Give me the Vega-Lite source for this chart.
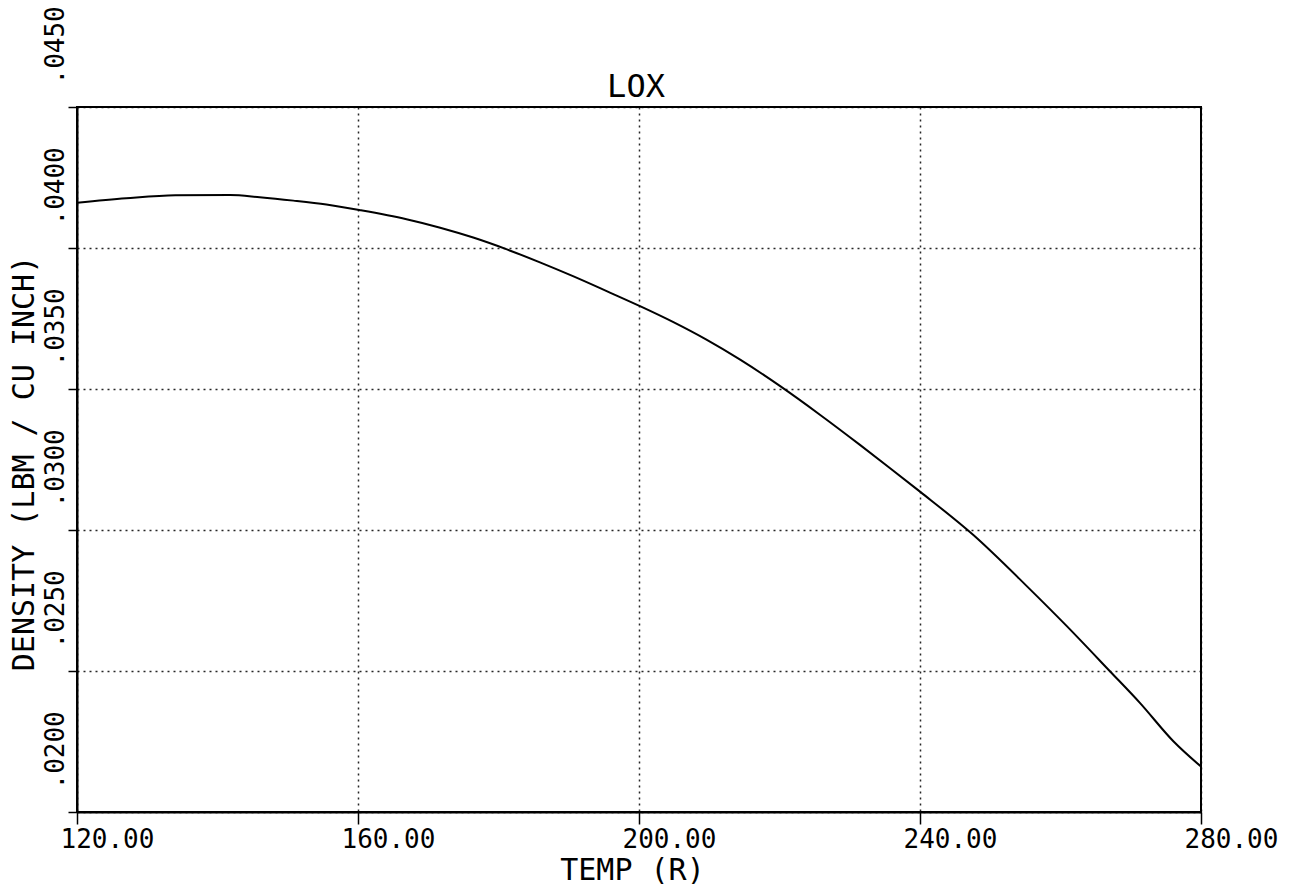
{
  "$schema": "https://vega.github.io/schema/vega-lite/v6.json",
  "width": 1124,
  "height": 705,
  "autosize": {"type": "none"},
  "padding": {"left": 77, "top": 107, "right": 95, "bottom": 76},
  "background": "white",
  "title": {
    "text": "LOX",
    "font": "DejaVu Sans Mono",
    "fontSize": 32,
    "fontWeight": "normal",
    "color": "black",
    "anchor": "middle",
    "baseline": "alphabetic",
    "offset": 10,
    "dx": -3,
    "dy": 133
  },
  "config": {
    "view": {"stroke": "black", "strokeWidth": 2},
    "axis": {
      "domainColor": "black",
      "domainWidth": 2,
      "tickColor": "black",
      "tickWidth": 1.5,
      "gridColor": "black",
      "gridDash": [2, 4],
      "gridWidth": 1.5,
      "gridOpacity": 0.85,
      "labelFont": "DejaVu Sans Mono",
      "labelFontSize": 26,
      "labelColor": "black",
      "titleFont": "DejaVu Sans Mono",
      "titleFontSize": 30,
      "titleFontWeight": "normal",
      "titleColor": "black"
    }
  },
  "data": {
    "values": [
      {"temp": 120.0, "density": 0.04160},
      {"temp": 127.0, "density": 0.04176},
      {"temp": 134.0, "density": 0.04187},
      {"temp": 141.8, "density": 0.04188},
      {"temp": 146.0, "density": 0.04180},
      {"temp": 150.8, "density": 0.04168},
      {"temp": 155.5, "density": 0.04154},
      {"temp": 160.3, "density": 0.04134},
      {"temp": 166.9, "density": 0.04102},
      {"temp": 171.7, "density": 0.04072},
      {"temp": 176.4, "density": 0.04037},
      {"temp": 181.2, "density": 0.03995},
      {"temp": 185.9, "density": 0.03949},
      {"temp": 190.6, "density": 0.03900},
      {"temp": 195.4, "density": 0.03847},
      {"temp": 200.3, "density": 0.03792},
      {"temp": 204.9, "density": 0.03737},
      {"temp": 209.6, "density": 0.03675},
      {"temp": 214.4, "density": 0.03604},
      {"temp": 220.1, "density": 0.03510},
      {"temp": 225.8, "density": 0.03408},
      {"temp": 231.5, "density": 0.03301},
      {"temp": 235.7, "density": 0.03220},
      {"temp": 240.0, "density": 0.03136},
      {"temp": 247.6, "density": 0.02982},
      {"temp": 255.2, "density": 0.02801},
      {"temp": 260.9, "density": 0.02659},
      {"temp": 267.0, "density": 0.02500},
      {"temp": 271.3, "density": 0.02387},
      {"temp": 276.1, "density": 0.02250},
      {"temp": 280.0, "density": 0.02161}
    ]
  },
  "mark": {"type": "line", "color": "black", "strokeWidth": 2, "interpolate": "monotone", "clip": true},
  "encoding": {
    "x": {
      "field": "temp",
      "type": "quantitative",
      "scale": {"domain": [120, 280], "nice": false, "zero": false},
      "axis": {
        "title": "TEMP (R)",
        "values": [120, 160, 200, 240, 280],
        "format": ".2f",
        "tickSize": 12,
        "labelAlign": "left",
        "labelBaseline": "top",
        "labelOffset": -17,
        "labelPadding": 2,
        "labelFlush": false,
        "labelOverlap": false,
        "grid": true,
        "titleX": 555,
        "titleY": 67,
        "titleAlign": "center",
        "titleBaseline": "alphabetic"
      }
    },
    "y": {
      "field": "density",
      "type": "quantitative",
      "scale": {"domain": [0.02, 0.045], "nice": false, "zero": false},
      "axis": {
        "title": "DENSITY (LBM / CU INCH)",
        "values": [0.02, 0.025, 0.03, 0.035, 0.04, 0.045],
        "labelExpr": "substring(format(datum.value, '.4f'), 1)",
        "tickSize": 9,
        "labelAngle": -90,
        "labelAlign": "left",
        "labelBaseline": "alphabetic",
        "labelOffset": -23,
        "labelPadding": 5,
        "labelFlush": false,
        "labelOverlap": false,
        "grid": true,
        "titleAngle": -90,
        "titleX": -44,
        "titleY": 356,
        "titleAlign": "center",
        "titleBaseline": "alphabetic"
      }
    }
  }
}
